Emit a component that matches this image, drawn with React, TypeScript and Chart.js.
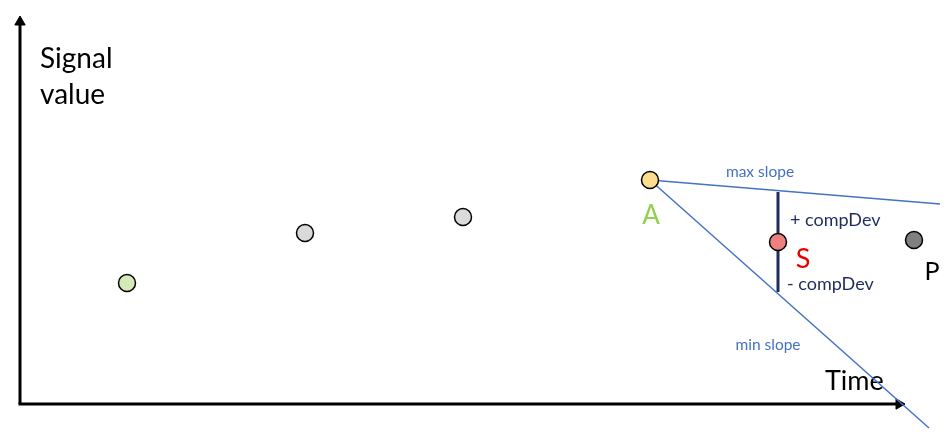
import React, { useEffect, useRef } from "react";
import { Chart, registerables } from "chart.js";

Chart.register(...registerables);

// Scale extents (time on x, signal value on y)
const timeRange = [0, 950];
const signalRange = [0, 437];

// Past samples (first one highlighted green, the rest grey)
const historyTimes = [127, 305, 463];
const historyValues = [154, 204, 220];

// Archived point A, snapshot S, current point P
const archiveTime = 650;
const archiveValue = 257;
const snapshotTime = 778;
const snapshotValue = 195;
const currentTime = 914;
const currentValue = 197;

// Slope envelope end points
const maxSlopeEnd = { time: 940, value: 233 };
const minSlopeEnd = { time: 929, value: 9 };

// compDev bar (between max and min slope at snapshot time)
const compDevTop = 245;
const compDevBottom = 145;

// Axis lines
const axisOriginTime = 20;
const axisOriginValue = 33;
const yAxisTip = 415;
const xAxisTip = 899;

// Text annotations (anchor = baseline)
const annotations = [
  { text: "Signal", x: 40, y: 369, color: "#000000", size: 28, align: "left" },
  { text: "value", x: 40, y: 333, color: "#000000", size: 28, align: "left" },
  { text: "max slope", x: 760, y: 260, color: "#4472c4", size: 15.5, align: "center" },
  { text: "A", x: 651, y: 213, color: "#92d050", size: 26, align: "center" },
  { text: "+ compDev", x: 790, y: 211, color: "#1f2c5c", size: 18, align: "left" },
  { text: "S", x: 803, y: 169, color: "#e60000", size: 27, align: "center" },
  { text: "- compDev", x: 787, y: 147, color: "#1f2c5c", size: 18, align: "left" },
  { text: "P", x: 932, y: 157, color: "#000000", size: 25, align: "center" },
  { text: "min slope", x: 768, y: 87, color: "#4472c4", size: 15.5, align: "center" },
  { text: "Time", x: 825, y: 47, color: "#000000", size: 27, align: "left" },
];

const FONT = "Lato, 'Open Sans', sans-serif";

const textPlugin = {
  id: "textAnnotations",
  beforeDatasetsDraw(chart: any) {
    const { ctx, scales } = chart;
    ctx.save();
    ctx.textBaseline = "alphabetic";
    for (const a of annotations) {
      ctx.font = `${a.size}px ${FONT}`;
      ctx.fillStyle = a.color;
      ctx.textAlign = a.align;
      ctx.fillText(a.text, scales.x.getPixelForValue(a.x), scales.y.getPixelForValue(a.y));
    }
    ctx.restore();
  },
};

export default function App() {
  const ref = useRef<HTMLCanvasElement>(null);

  useEffect(() => {
    if (!ref.current) return;
    const pointDs = (data: any[], fill: string, order: number) => ({
      data,
      showLine: false,
      pointRadius: 8.5,
      pointBackgroundColor: fill,
      pointBorderColor: "#000000",
      pointBorderWidth: 1.5,
      order,
    });
    const lineDs = (data: any[], color: string, width: number, order: number) => ({
      data,
      showLine: true,
      borderColor: color,
      borderWidth: width,
      pointRadius: 0,
      fill: false,
      tension: 0,
      order,
    });
    const arrowDs = (pt: any, rotation: number) => ({
      data: [pt],
      showLine: false,
      pointStyle: "triangle",
      pointRadius: 6,
      pointRotation: rotation,
      pointBackgroundColor: "#000000",
      pointBorderColor: "#000000",
      pointBorderWidth: 1,
      order: 5,
    });

    const chart = new Chart(ref.current, {
      type: "scatter",
      data: {
        datasets: [
          pointDs([{ x: historyTimes[0], y: historyValues[0] }], "#d6e9b8", 0),
          pointDs(
            historyTimes.slice(1).map((t, i) => ({ x: t, y: historyValues[i + 1] })),
            "#dadada",
            0
          ),
          pointDs([{ x: archiveTime, y: archiveValue }], "#fcdc8e", 0),
          pointDs([{ x: snapshotTime, y: snapshotValue }], "#ef8080", 0),
          pointDs([{ x: currentTime, y: currentValue }], "#808080", 0),
          lineDs(
            [
              { x: snapshotTime, y: compDevTop },
              { x: snapshotTime, y: compDevBottom },
            ],
            "#1f2c5c",
            3,
            2
          ),
          lineDs(
            [
              { x: archiveTime, y: archiveValue },
              { x: maxSlopeEnd.time, y: maxSlopeEnd.value },
            ],
            "#4472c4",
            1.5,
            3
          ),
          lineDs(
            [
              { x: archiveTime, y: archiveValue },
              { x: minSlopeEnd.time, y: minSlopeEnd.value },
            ],
            "#4472c4",
            1.5,
            3
          ),
          lineDs(
            [
              { x: axisOriginTime, y: axisOriginValue },
              { x: axisOriginTime, y: yAxisTip },
            ],
            "#000000",
            3,
            6
          ),
          lineDs(
            [
              { x: axisOriginTime - 1.5, y: axisOriginValue },
              { x: xAxisTip, y: axisOriginValue },
            ],
            "#000000",
            3,
            6
          ),
          arrowDs({ x: axisOriginTime, y: yAxisTip }, 0),
          arrowDs({ x: xAxisTip, y: axisOriginValue }, 90),
        ] as any,
      },
      options: {
        animation: false,
        responsive: true,
        maintainAspectRatio: false,
        layout: { padding: 0, autoPadding: false },
        plugins: { legend: { display: false }, tooltip: { enabled: false } },
        scales: {
          x: { type: "linear", min: timeRange[0], max: timeRange[1], display: false },
          y: { type: "linear", min: signalRange[0], max: signalRange[1], display: false },
        },
        elements: { line: { borderCapStyle: "butt" } },
      } as any,
      plugins: [textPlugin],
    });
    return () => chart.destroy();
  }, []);

  return (
    <div style={{ position: "fixed", left: 0, top: 0, width: 950, height: 437, background: "#ffffff" }}>
      <canvas ref={ref} />
    </div>
  );
}
